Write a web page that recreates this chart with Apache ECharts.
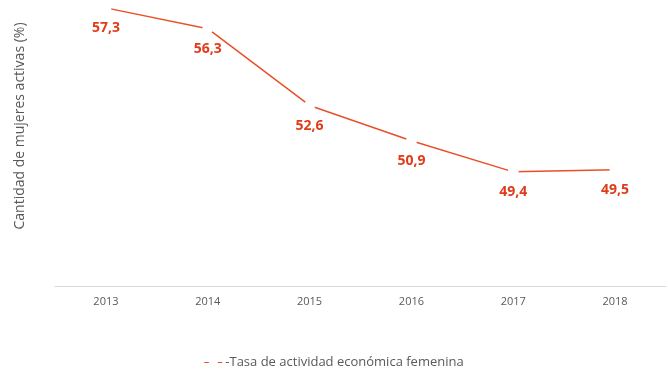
<!DOCTYPE html>
<html><head><meta charset="utf-8">
<script src="https://cdn.jsdelivr.net/npm/echarts@6/dist/echarts.min.js"></script>
<style>html,body{margin:0;padding:0;background:#fff}#c{width:668px;height:382px}</style>
</head><body><div id="c"></div>
<script>
const years = ['2013','2014','2015','2016','2017','2018'];
const tasa = [57.3, 56.3, 52.6, 50.9, 49.4, 49.5];
const seriesName = 'Tasa de actividad económica femenina';
const yAxisTitle = 'Cantidad de mujeres activas (%)';

const chart = echarts.init(document.getElementById('c'));
chart.setOption({
  animation: false,
  grid: {left: 55, right: 2, top: 0, bottom: 96},
  xAxis: {
    type: 'category', data: years, boundaryGap: true,
    axisLine: {lineStyle: {color: '#d9d9d9'}},
    axisTick: {show: false},
    axisLabel: {color: '#595959', fontSize: 11, fontFamily: 'Open Sans', margin: 10}
  },
  yAxis: {
    type: 'value', min: 43.9, max: 57.68,
    axisLine: {show: false}, axisTick: {show: false}, axisLabel: {show: false},
    splitLine: {show: false},
    name: yAxisTitle, nameLocation: 'middle', nameGap: 28, nameRotate: 90,
    nameTextStyle: {color: '#595959', fontSize: 14, fontFamily: 'Open Sans', padding: [0,0,0,34]}
  },
  legend: {
    bottom: 8, left: 'center',
    itemWidth: 18, itemHeight: 4, itemGap: 10,
    data: [{name: seriesName, icon: 'path://M0,0h4v1h-4zM12,0h4v1h-4z', itemStyle: {color: '#E8502A'}}],
    textStyle: {color: '#595959', fontSize: 13, fontFamily: 'Open Sans', padding: [0,0,0,-2]},
    formatter: function(n){ return '-' + n; }
  },
  series: [{
    name: seriesName, type: 'line', data: tasa,
    lineStyle: {color: '#E8502A', width: 1.5},
    symbol: 'circle', symbolSize: 11,
    itemStyle: {color: '#ffffff', borderWidth: 0},
    label: {show: true, position: 'bottom', distance: 8, color: '#E03C1A', fontWeight: 'bold',
      fontSize: 14, fontFamily: 'Open Sans',
      formatter: p => p.value.toFixed(1).replace('.', ',')}
  }]
});
</script></body></html>
